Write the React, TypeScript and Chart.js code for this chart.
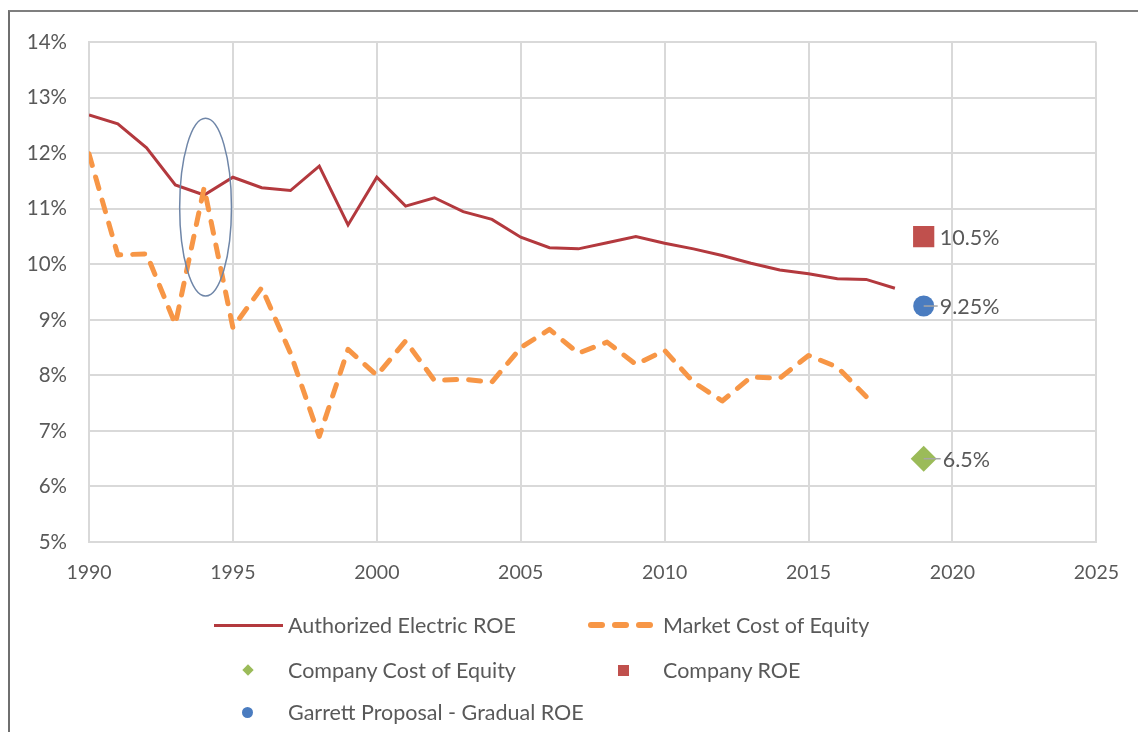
import React, { useEffect, useRef } from "react";
import { Chart, registerables } from "chart.js";

Chart.register(...registerables);

const roeYears = [1990, 1991, 1992, 1993, 1994, 1995, 1996, 1997, 1998, 1999, 2000, 2001, 2002, 2003, 2004, 2005, 2006, 2007, 2008, 2009, 2010, 2011, 2012, 2013, 2014, 2015, 2016, 2017, 2018];
const authorizedROE = [12.69, 12.53, 12.1, 11.43, 11.25, 11.57, 11.38, 11.33, 11.77, 10.71, 11.57, 11.05, 11.2, 10.95, 10.81, 10.49, 10.3, 10.28, 10.39, 10.5, 10.38, 10.28, 10.16, 10.02, 9.9, 9.83, 9.74, 9.73, 9.57];

const mktYears = [1990, 1991, 1992, 1993, 1994, 1995, 1996, 1997, 1998, 1999, 2000, 2001, 2002, 2003, 2004, 2005, 2006, 2007, 2008, 2009, 2010, 2011, 2012, 2013, 2014, 2015, 2016, 2017];
const marketCOE = [11.99, 10.17, 10.19, 8.92, 11.38, 8.86, 9.58, 8.4, 6.9, 8.47, 8.0, 8.62, 7.91, 7.93, 7.88, 8.5, 8.83, 8.4, 8.6, 8.2, 8.45, 7.88, 7.54, 7.97, 7.95, 8.36, 8.15, 7.62];

const pointYear = 2019;
const companyCOE = 6.5;
const companyROE = 10.5;
const garrettROE = 9.25;
const pointLabels = ["6.5%", "10.5%", "9.25%"];

const seriesNames = [
  "Authorized Electric ROE",
  "Market Cost of Equity",
  "Company Cost of Equity",
  "Company ROE",
  "Garrett Proposal - Gradual ROE",
];

const xTicks = { min: 1990, max: 2025, step: 5 };
const yTicks = { min: 5, max: 14, step: 1 };

// highlighted region (ellipse) in data units
const ellipseCenter = { x: 1994.05, y: 11.03 };
const ellipseRadius = { x: 0.9, y: 1.6 };

const RED = "#B3393E";
const ORANGE = "#F79646";
const GREEN = "#9BBB59";
const SQUARE_RED = "#C0504D";
const BLUE = "#4A7CC0";
const TEXT = "#595959";
const GRID = "#D9D9D9";
const FONT = "Lato, 'Open Sans', sans-serif";

export default function App() {
  const canvasRef = useRef<HTMLCanvasElement | null>(null);

  useEffect(() => {
    if (!canvasRef.current) return;

    const overlayPlugin = {
      id: "overlay",
      afterDatasetsDraw(chart: any) {
        const { ctx, scales } = chart;
        const xs = scales.x;
        const ys = scales.y;
        // ellipse
        const cx = xs.getPixelForValue(ellipseCenter.x);
        const cy = ys.getPixelForValue(ellipseCenter.y);
        const rx = Math.abs(xs.getPixelForValue(ellipseCenter.x + ellipseRadius.x) - cx);
        const ry = Math.abs(ys.getPixelForValue(ellipseCenter.y + ellipseRadius.y) - cy);
        ctx.save();
        ctx.beginPath();
        ctx.ellipse(cx, cy, rx, ry, 0, 0, Math.PI * 2);
        ctx.strokeStyle = "#6F86A8";
        ctx.lineWidth = 1.5;
        ctx.stroke();
        ctx.restore();

        // point labels with leader lines
        const entries = [
          { ds: 2, label: pointLabels[0], leader: true, dx: 19 },
          { ds: 3, label: pointLabels[1], leader: false, dx: 16 },
          { ds: 4, label: pointLabels[2], leader: true, dx: 16 },
        ];
        ctx.save();
        ctx.font = `21.5px ${FONT}`;
        ctx.fillStyle = TEXT;
        ctx.textBaseline = "middle";
        ctx.textAlign = "left";
        entries.forEach((e) => {
          const meta = chart.getDatasetMeta(e.ds);
          const el = meta.data[0];
          if (!el) return;
          const px = el.x;
          const py = el.y;
          if (e.leader) {
            ctx.beginPath();
            ctx.moveTo(px, py);
            ctx.lineTo(px + e.dx - 2, py);
            ctx.strokeStyle = "#A6A6A6";
            ctx.lineWidth = 1.5;
            ctx.stroke();
          }
          ctx.fillText(e.label, px + e.dx, py + 1);
        });
        ctx.restore();
      },
    };

    const chart = new Chart(canvasRef.current, {
      type: "line",
      data: {
        datasets: [
          {
            label: seriesNames[0],
            data: roeYears.map((x, i) => ({ x, y: authorizedROE[i] })),
            borderColor: RED,
            borderWidth: 3,
            pointRadius: 0,
            tension: 0,
            order: 2,
          },
          {
            label: seriesNames[1],
            data: mktYears.map((x, i) => ({ x, y: marketCOE[i] })),
            borderColor: ORANGE,
            borderWidth: 5,
            borderDash: [12, 12],
            borderCapStyle: "round",
            borderJoinStyle: "round",
            pointRadius: 0,
            tension: 0,
            order: 1,
          },
          {
            label: seriesNames[2],
            data: [{ x: pointYear, y: companyCOE }],
            showLine: false,
            pointStyle: "rectRot",
            pointRadius: 13,
            backgroundColor: GREEN,
            borderColor: GREEN,
            borderWidth: 0,
          },
          {
            label: seriesNames[3],
            data: [{ x: pointYear, y: companyROE }],
            showLine: false,
            pointStyle: "rect",
            pointRadius: 15,
            backgroundColor: SQUARE_RED,
            borderColor: SQUARE_RED,
            borderWidth: 0,
          },
          {
            label: seriesNames[4],
            data: [{ x: pointYear, y: garrettROE }],
            showLine: false,
            pointStyle: "circle",
            pointRadius: 10.5,
            backgroundColor: BLUE,
            borderColor: BLUE,
            borderWidth: 0,
          },
        ],
      },
      options: {
        responsive: false,
        animation: false,
        events: [],
        layout: { padding: { top: 30, right: 40, left: 0, bottom: 0 } },
        plugins: {
          legend: { display: false },
          tooltip: { enabled: false },
        },
        scales: {
          x: {
            type: "linear",
            min: xTicks.min,
            max: xTicks.max,
            ticks: {
              stepSize: xTicks.step,
              color: TEXT,
              font: { family: FONT, size: 19.5 },
              padding: 19,
              callback: (v: any) => String(v),
              maxRotation: 0,
            },
            grid: { color: GRID, lineWidth: 2, drawTicks: false },
            border: { color: GRID, width: 2 },
            afterFit: (s: any) => {
              s.height = 190;
            },
          },
          y: {
            type: "linear",
            min: yTicks.min,
            max: yTicks.max,
            ticks: {
              stepSize: yTicks.step,
              color: TEXT,
              font: { family: FONT, size: 20.5 },
              padding: 22,
              callback: (v: any) => v + "%",
            },
            grid: { color: GRID, lineWidth: 2, drawTicks: false },
            border: { color: GRID, width: 2 },
            afterFit: (s: any) => {
              s.width = 81;
            },
          },
        },
      },
      plugins: [overlayPlugin],
    } as any);

    return () => chart.destroy();
  }, []);

  const legendText: React.CSSProperties = {
    position: "absolute",
    fontFamily: FONT,
    fontSize: 21.5,
    color: TEXT,
    lineHeight: "26px",
    whiteSpace: "nowrap",
    transform: "translateY(-50%)",
  };

  return (
    <div style={{ position: "relative", width: 1130, height: 724, background: "#fff" }}>
      <div
        style={{
          position: "absolute",
          left: 0,
          top: 2,
          width: 1130,
          height: 722,
          borderTop: "2px solid #7F7F7F",
          borderLeft: "2px solid #6F6F6F",
          boxSizing: "border-box",
          pointerEvents: "none",
        }}
      />
      <canvas ref={canvasRef} width={1130} height={724} style={{ position: "absolute", left: 0, top: 0 }} />
      {/* Legend */}
      <div style={{ position: "absolute", left: 206, top: 616, width: 69, height: 3, background: RED }} />
      <div style={{ ...legendText, left: 280, top: 617 }}>{seriesNames[0]}</div>
      {[0, 1, 2].map((i) => (
        <div
          key={i}
          style={{
            position: "absolute",
            left: 580 + i * 24,
            top: 614,
            width: 17,
            height: 6,
            borderRadius: 3,
            background: ORANGE,
          }}
        />
      ))}
      <div style={{ ...legendText, left: 655, top: 617 }}>{seriesNames[1]}</div>

      <div
        style={{
          position: "absolute",
          left: 240 - 4,
          top: 662 - 4,
          width: 8,
          height: 8,
          background: GREEN,
          transform: "rotate(45deg)",
        }}
      />
      <div style={{ ...legendText, left: 280, top: 662 }}>{seriesNames[2]}</div>
      <div
        style={{
          position: "absolute",
          left: 615 - 5.5,
          top: 662 - 5.5,
          width: 11,
          height: 11,
          background: SQUARE_RED,
        }}
      />
      <div style={{ ...legendText, left: 655, top: 662 }}>{seriesNames[3]}</div>

      <div
        style={{
          position: "absolute",
          left: 239 - 5.5,
          top: 704 - 5.5,
          width: 11,
          height: 11,
          borderRadius: "50%",
          background: BLUE,
        }}
      />
      <div style={{ ...legendText, left: 280, top: 704 }}>{seriesNames[4]}</div>
    </div>
  );
}
